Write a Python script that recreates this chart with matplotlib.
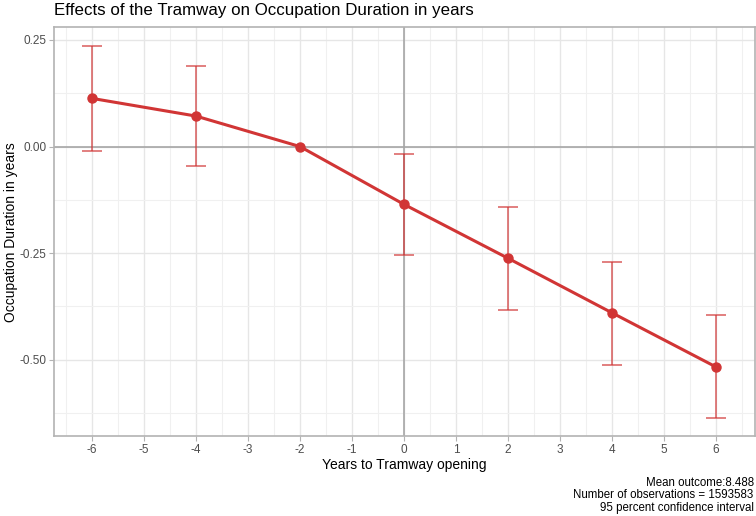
import numpy as np
import matplotlib.pyplot as plt

plt.rcParams['font.family'] = ['Liberation Sans', 'DejaVu Sans']

# event-study estimates (years relative to opening)
years = [-6, -4, -2, 0, 2, 4, 6]
estimate = [0.113, 0.0715, 0.0, -0.1356, -0.262, -0.390, -0.517]
ci_low = [-0.010, -0.046, 0.0, -0.2545, -0.384, -0.512, -0.637]
ci_high = [0.236, 0.189, 0.0, -0.0176, -0.142, -0.270, -0.395]

xticks = list(range(-6, 7))
yticks = [0.25, 0.0, -0.25, -0.50]
ytick_labels = ["0.25", "0.00", "-0.25", "-0.50"]

red = "#d13535"
grid_col = "#e6e6e6"
border_col = "#b3b3b3"

fig = plt.figure(figsize=(7.56, 5.16), dpi=100)
ax = fig.add_axes([0.0714, 0.155, 0.9273, 0.792])

est = np.array(estimate)
err = [est - np.array(ci_low), np.array(ci_high) - est]
mask = np.array(ci_high) != np.array(ci_low)

ax.axhline(0, color="#a6a6a6", lw=1.2, zorder=1)
ax.axvline(0, color="#a6a6a6", lw=1.2, zorder=1)

ax.errorbar(np.array(years)[mask], est[mask],
            yerr=[err[0][mask], err[1][mask]],
            fmt="none", ecolor=red, elinewidth=1.1, capsize=7, capthick=1.1,
            alpha=0.8, zorder=2)
ax.plot(years, estimate, "-o", color=red, lw=2.2, markersize=6.5, zorder=3)

ax.set_xlim(-6.73, 6.75)
ax.set_ylim(-0.679, 0.2796)
ax.set_xticks(xticks)
ax.set_xticklabels([str(v) for v in xticks])
ax.set_xticks(np.arange(-6.5, 7, 1.0), minor=True)
ax.set_yticks(yticks)
ax.set_yticklabels(ytick_labels)
ax.set_yticks([0.125, -0.125, -0.375, -0.625], minor=True)

ax.grid(which="major", color=grid_col, lw=1.0)
ax.grid(which="minor", color="#f0f0f0", lw=0.8)
ax.set_axisbelow(True)

for s in ax.spines.values():
    s.set_color(border_col)
    s.set_linewidth(1.2)

ax.tick_params(which="major", length=3.5, color=border_col, labelsize=8.5,
               labelcolor="#4d4d4d", pad=2)
ax.tick_params(which="minor", length=0)

ax.set_xlabel("Years to Tramway opening", fontsize=10, labelpad=2)
ax.set_ylabel("Occupation Duration in years", fontsize=10)
ax.yaxis.set_label_coords(-0.0615, 0.5)
ax.yaxis.label.set_verticalalignment("center")
fig.text(0.0714, 0.995, "Effects of the Tramway on Occupation Duration in years",
         fontsize=12.2, ha="left", va="top")

caption = "Mean outcome:8.488\nNumber of observations = 1593583\n95 percent confidence interval"
fig.text(0.997, 0.004, caption, fontsize=8.3, ha="right", va="bottom", linespacing=1.07)

fig.savefig("out.png", dpi=100)
